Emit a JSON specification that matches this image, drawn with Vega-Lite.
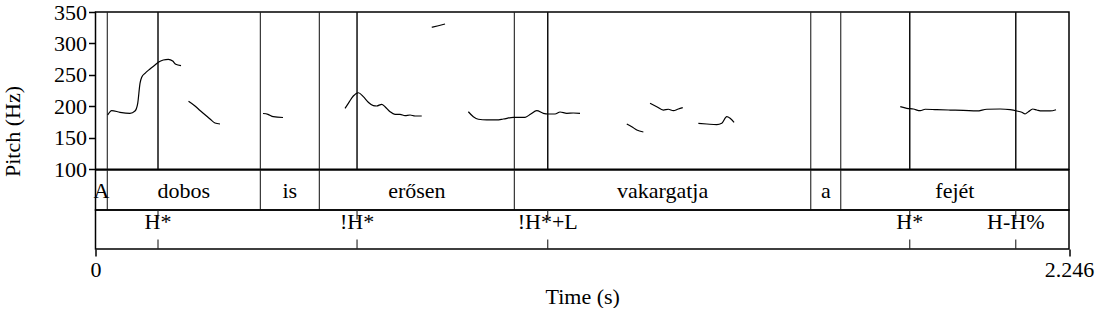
{
  "$schema": "https://vega.github.io/schema/vega-lite/v6.json",
  "padding": {"left": 0.5, "top": 0, "right": 0, "bottom": 0},
  "background": "white",
  "config": {
    "font": "Times New Roman",
    "view": {"stroke": "black", "strokeWidth": 1.5},
    "concat": {"spacing": 0},
    "text": {"font": "Times New Roman"},
    "axis": {"labelFont": "Times New Roman", "titleFont": "Times New Roman", "labelFontSize": 22, "titleFontSize": 22, "titleFontWeight": "normal", "labelColor": "black", "titleColor": "black", "tickColor": "black", "tickWidth": 1.5, "tickSize": 7, "domain": false, "grid": false}
  },
  "datasets": {
    "pitch": [
      {"seg":1,"t":0.0281,"hz":186.3},{"seg":1,"t":0.0374,"hz":193.4},{"seg":1,"t":0.0565,"hz":190.6},{"seg":1,"t":0.0796,"hz":189.0},{"seg":1,"t":0.0911,"hz":192.7},{"seg":1,"t":0.0974,"hz":204.9},{"seg":1,"t":0.1027,"hz":236.7},{"seg":1,"t":0.1066,"hz":246.2},{"seg":1,"t":0.1142,"hz":252.6},{"seg":1,"t":0.1257,"hz":259.4},{"seg":1,"t":0.1373,"hz":265.8},{"seg":1,"t":0.1449,"hz":270.1},{"seg":1,"t":0.1564,"hz":273.7},{"seg":1,"t":0.168,"hz":274.8},{"seg":1,"t":0.1781,"hz":272.1},{"seg":1,"t":0.1851,"hz":266.9},{"seg":1,"t":0.1973,"hz":264.7},
      {"seg":2,"t":0.2146,"hz":208.1},{"seg":2,"t":0.2296,"hz":200.6},{"seg":2,"t":0.2411,"hz":193.5},{"seg":2,"t":0.2527,"hz":186.8},{"seg":2,"t":0.2642,"hz":180.0},{"seg":2,"t":0.2757,"hz":173.6},{"seg":2,"t":0.2873,"hz":172.0},
      {"seg":3,"t":0.3865,"hz":188.7},{"seg":3,"t":0.398,"hz":187.4},{"seg":3,"t":0.4102,"hz":183.6},{"seg":3,"t":0.4326,"hz":182.3},
      {"seg":4,"t":0.5757,"hz":196.9},{"seg":4,"t":0.5833,"hz":204.9},{"seg":4,"t":0.5948,"hz":216.5},{"seg":4,"t":0.6064,"hz":221.7},{"seg":4,"t":0.6179,"hz":215.4},{"seg":4,"t":0.6294,"hz":206.5},{"seg":4,"t":0.641,"hz":201.1},{"seg":4,"t":0.6488,"hz":200.6},{"seg":4,"t":0.6604,"hz":203.3},{"seg":4,"t":0.668,"hz":199.5},{"seg":4,"t":0.6795,"hz":191.5},{"seg":4,"t":0.691,"hz":187.4},{"seg":4,"t":0.7026,"hz":187.4},{"seg":4,"t":0.7141,"hz":185.2},{"seg":4,"t":0.7257,"hz":186.3},{"seg":4,"t":0.7372,"hz":184.7},{"seg":4,"t":0.7527,"hz":184.7},
      {"seg":5,"t":0.7757,"hz":325.7},{"seg":5,"t":0.791,"hz":328.2},{"seg":5,"t":0.8064,"hz":330.9},
      {"seg":6,"t":0.8602,"hz":191.5},{"seg":6,"t":0.8717,"hz":183.6},{"seg":6,"t":0.8833,"hz":179.5},{"seg":6,"t":0.9026,"hz":178.4},{"seg":6,"t":0.9257,"hz":178.4},{"seg":6,"t":0.9409,"hz":179.9},{"seg":6,"t":0.964,"hz":182.6},{"seg":6,"t":0.991,"hz":182.6},{"seg":6,"t":1.0042,"hz":187.9},{"seg":6,"t":1.018,"hz":193.1},{"seg":6,"t":1.0332,"hz":189.0},{"seg":6,"t":1.0448,"hz":187.9},{"seg":6,"t":1.0602,"hz":187.9},{"seg":6,"t":1.0718,"hz":191.1},{"seg":6,"t":1.0872,"hz":189.0},{"seg":6,"t":1.1024,"hz":189.5},{"seg":6,"t":1.1179,"hz":189.0},
      {"seg":7,"t":1.2257,"hz":172.0},{"seg":7,"t":1.2372,"hz":167.7},{"seg":7,"t":1.2488,"hz":162.5},{"seg":7,"t":1.264,"hz":159.3},
      {"seg":8,"t":1.2794,"hz":204.9},{"seg":8,"t":1.2949,"hz":199.5},{"seg":8,"t":1.3101,"hz":194.2},{"seg":8,"t":1.3217,"hz":195.4},{"seg":8,"t":1.3332,"hz":193.1},{"seg":8,"t":1.3447,"hz":195.8},{"seg":8,"t":1.3549,"hz":197.9},
      {"seg":9,"t":1.3909,"hz":173.1},{"seg":9,"t":1.4103,"hz":172.0},{"seg":9,"t":1.4333,"hz":170.9},{"seg":9,"t":1.4449,"hz":173.1},{"seg":9,"t":1.4564,"hz":183.6},{"seg":9,"t":1.4641,"hz":181.1},{"seg":9,"t":1.4733,"hz":174.7},
      {"seg":10,"t":1.8567,"hz":199.5},{"seg":10,"t":1.872,"hz":196.9},{"seg":10,"t":1.8869,"hz":195.8},{"seg":10,"t":1.9027,"hz":193.1},{"seg":10,"t":1.9142,"hz":195.4},{"seg":10,"t":1.9409,"hz":194.7},{"seg":10,"t":1.972,"hz":194.2},{"seg":10,"t":2.0023,"hz":193.8},{"seg":10,"t":2.0335,"hz":192.7},{"seg":10,"t":2.0564,"hz":195.4},{"seg":10,"t":2.087,"hz":195.8},{"seg":10,"t":2.1102,"hz":194.7},{"seg":10,"t":2.1255,"hz":192.7},{"seg":10,"t":2.1371,"hz":190.6},{"seg":10,"t":2.1447,"hz":187.9},{"seg":10,"t":2.1523,"hz":191.5},{"seg":10,"t":2.1624,"hz":195.8},{"seg":10,"t":2.1717,"hz":194.2},{"seg":10,"t":2.1832,"hz":192.7},{"seg":10,"t":2.2024,"hz":192.7},{"seg":10,"t":2.2161,"hz":194.7}
    ],
    "words": [
      {"word":"A","start":0,"end":0.0272},
      {"word":"dobos","start":0.0272,"end":0.3803},
      {"word":"is","start":0.3803,"end":0.5164},
      {"word":"erősen","start":0.5164,"end":0.9663},
      {"word":"vakargatja","start":0.9663,"end":1.6502},
      {"word":"a","start":1.6502,"end":1.7194},
      {"word":"fejét","start":1.7194,"end":2.246}
    ],
    "tones": [
      {"tone":"H*","t":0.1442},
      {"tone":"!H*","t":0.6034},
      {"tone":"!H*+L","t":1.0434},
      {"tone":"H*","t":1.8786},
      {"tone":"H-H%","t":2.1232}
    ]
  },
  "bounds": "flush",
  "vconcat": [
    {
      "width": 973.5,
      "height": 157.3,
      "layer": [
        {
          "data": {"name": "words"},
          "transform": [{"filter": "datum.start > 0"}],
          "mark": {"type": "rule", "color": "#222", "strokeWidth": 1.1},
          "encoding": {"x": {"field": "start", "type": "quantitative", "scale": {"domain": [0, 2.246], "nice": false, "zero": false}, "axis": null}}
        },
        {
          "data": {"name": "tones"},
          "mark": {"type": "rule", "color": "#111", "strokeWidth": 1.5},
          "encoding": {"x": {"field": "t", "type": "quantitative", "scale": {"domain": [0, 2.246], "nice": false, "zero": false}, "axis": null}}
        },
        {
          "data": {"name": "pitch"},
          "mark": {"type": "line", "color": "black", "strokeWidth": 1.2, "interpolate": "monotone"},
          "encoding": {
            "x": {"field": "t", "type": "quantitative", "scale": {"domain": [0, 2.246], "nice": false, "zero": false}, "axis": null},
            "y": {"field": "hz", "type": "quantitative", "scale": {"domain": [100, 350], "nice": false, "zero": false}, "axis": {"title": "Pitch (Hz)", "values": [100, 150, 200, 250, 300, 350], "labelPadding": 2, "titlePadding": 29, "titleY": 119}},
            "detail": {"field": "seg", "type": "nominal"}
          }
        }
      ]
    },
    {
      "width": 973.5,
      "height": 40,
      "data": {"name": "words"},
      "layer": [
        {
          "transform": [{"filter": "datum.start > 0"}],
          "mark": {"type": "rule", "color": "#222", "strokeWidth": 1.1},
          "encoding": {"x": {"field": "start", "type": "quantitative", "scale": {"domain": [0, 2.246], "nice": false, "zero": false}, "axis": null}}
        },
        {
          "transform": [{"calculate": "(datum.start + datum.end) / 2", "as": "mid"}],
          "mark": {"type": "text", "fontSize": 22, "color": "black", "baseline": "middle", "dy": 1},
          "encoding": {
            "x": {"field": "mid", "type": "quantitative", "scale": {"domain": [0, 2.246], "nice": false, "zero": false}, "axis": null},
            "text": {"field": "word"}
          }
        }
      ]
    },
    {
      "width": 973.5,
      "height": 39,
      "data": {"name": "tones"},
      "layer": [
        {
          "mark": {"type": "rule", "color": "#222", "strokeWidth": 1.1, "strokeDash": [9.5, 20]},
          "encoding": {"x": {"field": "t", "type": "quantitative", "scale": {"domain": [0, 2.246], "nice": false, "zero": false}, "axis": {"title": "Time (s)", "values": [0, 2.246], "labelExpr": "datum.value == 0 ? '0' : '2.246'", "labelFlush": false, "labelOverlap": false, "labelPadding": 3, "titlePadding": 6}}}
        },
        {
          "mark": {"type": "text", "fontSize": 22, "color": "black", "baseline": "middle", "dy": -8},
          "encoding": {
            "x": {"field": "t", "type": "quantitative", "scale": {"domain": [0, 2.246], "nice": false, "zero": false}},
            "text": {"field": "tone"}
          }
        }
      ]
    }
  ]
}
